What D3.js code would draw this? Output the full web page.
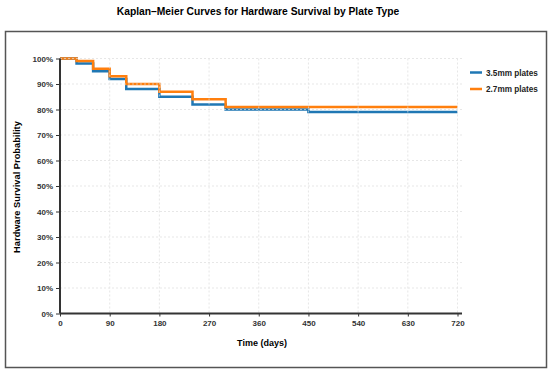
<!DOCTYPE html>
<html>
<head>
<meta charset="utf-8">
<script src="https://cdn.jsdelivr.net/npm/d3@7"></script>
<style>
  body { margin: 0; background: #fff; font-family: "Liberation Sans", Arial, sans-serif; }
  .axis path, .axis line { stroke: #333; }
  .axis text { fill: #333; font-size: 8px; font-weight: bold; font-family: "Liberation Sans", Arial, sans-serif; }
</style>
</head>
<body>
<div class="result"></div>
<script>
// Step data: time (days) at which each step begins, survival from there on
const times35 = [0, 30, 60, 90, 120, 180, 240, 300, 450, 720];
const surv35 = [1.00, 0.98, 0.95, 0.92, 0.88, 0.85, 0.82, 0.80, 0.79, 0.79];
const times27 = [0, 30, 60, 90, 120, 180, 240, 300, 720];
const surv27 = [1.00, 0.99, 0.96, 0.93, 0.90, 0.87, 0.84, 0.81, 0.81];

const seriesNames = ['3.5mm plates', '2.7mm plates'];
const seriesColors = ['#1f77b4', '#ff7f0e'];
const xTicks = [0, 90, 180, 270, 360, 450, 540, 630, 720];
const yTicks = [0, 0.1, 0.2, 0.3, 0.4, 0.5, 0.6, 0.7, 0.8, 0.9, 1.0];

const w = 550;
const h = 376;
const margin = { top: 58.5, right: 90, bottom: 62.5, left: 60 };

const svg = d3.select('.result')
  .append('svg')
  .attr('width', w)
  .attr('height', h);

// Title
svg.append('text')
  .attr('x', 258)
  .attr('y', 15)
  .attr('text-anchor', 'middle')
  .style('font-size', '10.3px')
  .style('font-weight', 'bold')
  .text('Kaplan\u2013Meier Curves for Hardware Survival by Plate Type');

// Frame
svg.append('rect')
  .attr('x', 5.5)
  .attr('y', 31.5)
  .attr('width', 541)
  .attr('height', 336)
  .attr('fill', 'none')
  .attr('stroke', '#555')
  .attr('stroke-width', 1.5);

const xScale = d3.scaleLinear()
  .domain([0, 720])
  .range([margin.left, 457.5]);

const yScale = d3.scaleLinear()
  .domain([0, 1])
  .range([h - margin.bottom, margin.top]);

// Grid
const grid = svg.append('g');
grid.selectAll('.hg')
  .data(yTicks.slice(1))
  .enter()
  .append('line')
  .attr('x1', margin.left)
  .attr('x2', 462)
  .attr('y1', d => yScale(d))
  .attr('y2', d => yScale(d))
  .attr('stroke', '#ddd')
  .attr('stroke-dasharray', '2,2');
grid.selectAll('.vg')
  .data(xTicks.slice(1))
  .enter()
  .append('line')
  .attr('y1', margin.top)
  .attr('y2', h - margin.bottom)
  .attr('x1', d => xScale(d))
  .attr('x2', d => xScale(d))
  .attr('stroke', '#ddd')
  .attr('stroke-dasharray', '2,2');

// Curves
const line = d3.line()
  .x(d => xScale(d[0]))
  .y(d => yScale(d[1]))
  .curve(d3.curveStepAfter);

const series = [
  d3.zip(times35, surv35),
  d3.zip(times27, surv27)
];

svg.selectAll('.km')
  .data(series)
  .enter()
  .append('path')
  .attr('d', line)
  .attr('fill', 'none')
  .attr('stroke', (d, i) => seriesColors[i])
  .attr('stroke-width', 2.5);

// Grid overlay (light dotted on top of the curves)
grid.raise().attr('opacity', 0.7);

// Axes
const xAxis = d3.axisBottom(xScale)
  .tickValues(xTicks)
  .tickSize(3)
  .tickPadding(4);

const yAxis = d3.axisLeft(yScale)
  .tickValues(yTicks)
  .tickSize(4)
  .tickFormat(d3.format('.0%'))
  .tickPadding(3);

const gx = svg.append('g')
  .attr('class', 'axis')
  .attr('transform', 'translate(0,' + (h - margin.bottom) + ')')
  .call(xAxis);
gx.select('.domain').attr('d', 'M' + margin.left + ',0H462').attr('stroke-width', 2);

const gy = svg.append('g')
  .attr('class', 'axis')
  .attr('transform', 'translate(' + margin.left + ',0)')
  .call(yAxis);
gy.select('.domain').attr('d', 'M0,' + margin.top + 'V' + (h - margin.bottom)).attr('stroke-width', 2);

// Axis labels
svg.append('text')
  .attr('x', 262)
  .attr('y', 346)
  .attr('text-anchor', 'middle')
  .style('font-size', '9px')
  .style('font-weight', 'bold')
  .text('Time (days)');

svg.append('text')
  .attr('transform', 'translate(20,' + 187 + ') rotate(-90)')
  .attr('text-anchor', 'middle')
  .style('font-size', '9.3px')
  .style('font-weight', 'bold')
  .text('Hardware Survival Probability');

// Legend
const legend = svg.append('g');
seriesNames.forEach(function (name, i) {
  const y = 72.5 + i * 16.5;
  legend.append('line')
    .attr('x1', 470)
    .attr('x2', 482)
    .attr('y1', y)
    .attr('y2', y)
    .attr('stroke', seriesColors[i])
    .attr('stroke-width', 2.5);
  legend.append('text')
    .attr('x', 486)
    .attr('y', y + 3)
    .style('font-size', '8.2px')
    .style('font-weight', 'bold')
    .style('fill', '#222')
    .text(name);
});
</script>
</body>
</html>
